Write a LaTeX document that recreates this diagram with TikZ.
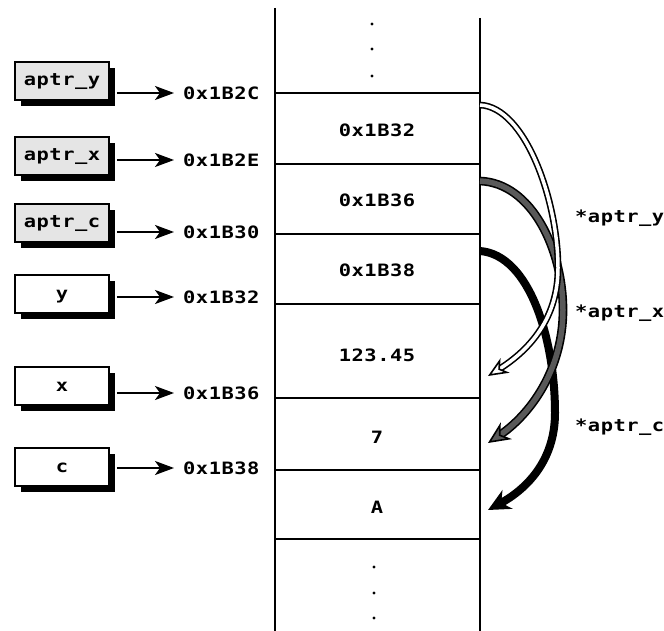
\documentclass[tikz,border=0pt]{standalone}
\usepackage{fontspec}
\newfontfamily\memfont{DejaVu Sans Mono}[FakeStretch=1.2,LetterSpace=3]
\usetikzlibrary{arrows.meta,calc,shadows}
\newcommand{\dotsize}{1.7}
\tikzset{
  memtext/.style={font=\memfont\bfseries\fontsize{17}{19}\selectfont, inner sep=0pt},
  varbox/.style={
    memtext,
    draw=black,
    line width=1.8pt,
    fill=white,
    text height=11pt,
    text depth=1pt,
    minimum width=94pt,
    minimum height=38pt,
    drop shadow={shadow xshift=6pt, shadow yshift=-6pt, fill=black, opacity=1}
  },
  ptrbox/.style={varbox, fill=black!10},
  addrarrow/.style={line width=2pt, -{Stealth[length=19pt, width=14pt, inset=5pt]}},
  colline/.style={line width=1.8pt},
  rowline/.style={line width=1.6pt},
  hollowshaft/.style={line width=1.6pt, double=white, double distance=3.5pt},
  hollowtip/.style={white, line width=1.6pt,
    -{Stealth[color=black, fill=white, length=20pt, width=17pt, inset=6pt]}},
  grayshaft/.style={line width=1.6pt, double=black!65, double distance=5.5pt},
  graytip/.style={black!65, line width=1.6pt,
    -{Stealth[color=black, fill=black!65, length=22pt, width=20pt, inset=7pt]}},
  solidarrow/.style={line width=8pt, -{Stealth[length=22pt, width=21pt, inset=7pt]}}
}

\begin{document}
\begin{tikzpicture}[x=1pt,y=-1pt]

  \path[use as bounding box] (0,0) rectangle (664,631);

  % memory column<<<
  \draw[colline] (275,8) -- (275,631);
  \draw[colline] (480,18) -- (480,631);
  \foreach \y in {93,164,234,304,398,470,539}
    \draw[rowline] (275,\y) -- (480,\y);
  \foreach \y in {24,49,76}
    \fill (372,\y) circle (\dotsize);
  \foreach \y in {567,593,618}
    \fill (374,\y) circle (\dotsize);

  \node[memtext] (cellptry) at (377,130) {0x1B32};
  \node[memtext] (cellptrx) at (377,200) {0x1B36};
  \node[memtext] (cellptrc) at (377,270) {0x1B38};
  \node[memtext] (celly) at (377,355) {123.45};
  \node[memtext] (cellx) at (377,437) {7};
  \node[memtext] (cellc) at (377,507) {A};
  % >>>

  % variables<<<
  \node[ptrbox] (aptry) at (62,81) {aptr\_y};
  \node[ptrbox] (aptrx) at (62,156) {aptr\_x};
  \node[ptrbox] (aptrc) at (62,223) {aptr\_c};
  \node[varbox] (vary) at (62,294) {y};
  \node[varbox] (varx) at (62,386) {x};
  \node[varbox] (varc) at (62,467) {c};

  \node[memtext, anchor=west] (addraptry) at (183,93) {0x1B2C};
  \node[memtext, anchor=west] (addraptrx) at (183,160) {0x1B2E};
  \node[memtext, anchor=west] (addraptrc) at (183,232) {0x1B30};
  \node[memtext, anchor=west] (addrvary) at (183,297) {0x1B32};
  \node[memtext, anchor=west] (addrvarx) at (183,393) {0x1B36};
  \node[memtext, anchor=west] (addrvarc) at (183,468) {0x1B38};

  \foreach \v/\a in {aptry/addraptry, aptrx/addraptrx, aptrc/addraptrc,
                     vary/addrvary, varx/addrvarx, varc/addrvarc}
    \draw[addrarrow] ([xshift=7pt]\v.east |- \a.west) -- ([xshift=-9pt]\a.west);
  % >>>

  % dereferences<<<
  \coordinate (ctail) at (480,251);
  \coordinate (chead) at (488,510);
  \draw[solidarrow] (ctail) .. controls (530,255) and (555,340) .. (555,413)
    .. controls (555,462) and (525,490) .. (chead);

  \coordinate (xtail) at (480,181);
  \coordinate (xhead) at (488,443);
  \coordinate (xbase) at ($(xhead)!13pt!(530,415)$);
  \draw[grayshaft] (xtail) .. controls (532,183) and (563,250) .. (563,310)
    .. controls (563,370) and (530,415) .. (xbase);
  \draw[graytip] (xbase) -- (xhead);

  \coordinate (ytail) at (480,105);
  \coordinate (yhead) at (488,376);
  \coordinate (ybase) at ($(yhead)!12pt!(530,350)$);
  \draw[hollowshaft] (ytail) .. controls (525,107) and (558,200) .. (558,268)
    .. controls (558,318) and (530,350) .. (ybase);
  \draw[hollowtip] (ybase) -- (yhead);

  \node[memtext, anchor=west] (derefy) at (575,218) {*aptr\_y};
  \node[memtext, anchor=west] (derefx) at (575,313) {*aptr\_x};
  \node[memtext, anchor=west] (derefc) at (575,427) {*aptr\_c};
  % >>>

\end{tikzpicture}
\end{document}
